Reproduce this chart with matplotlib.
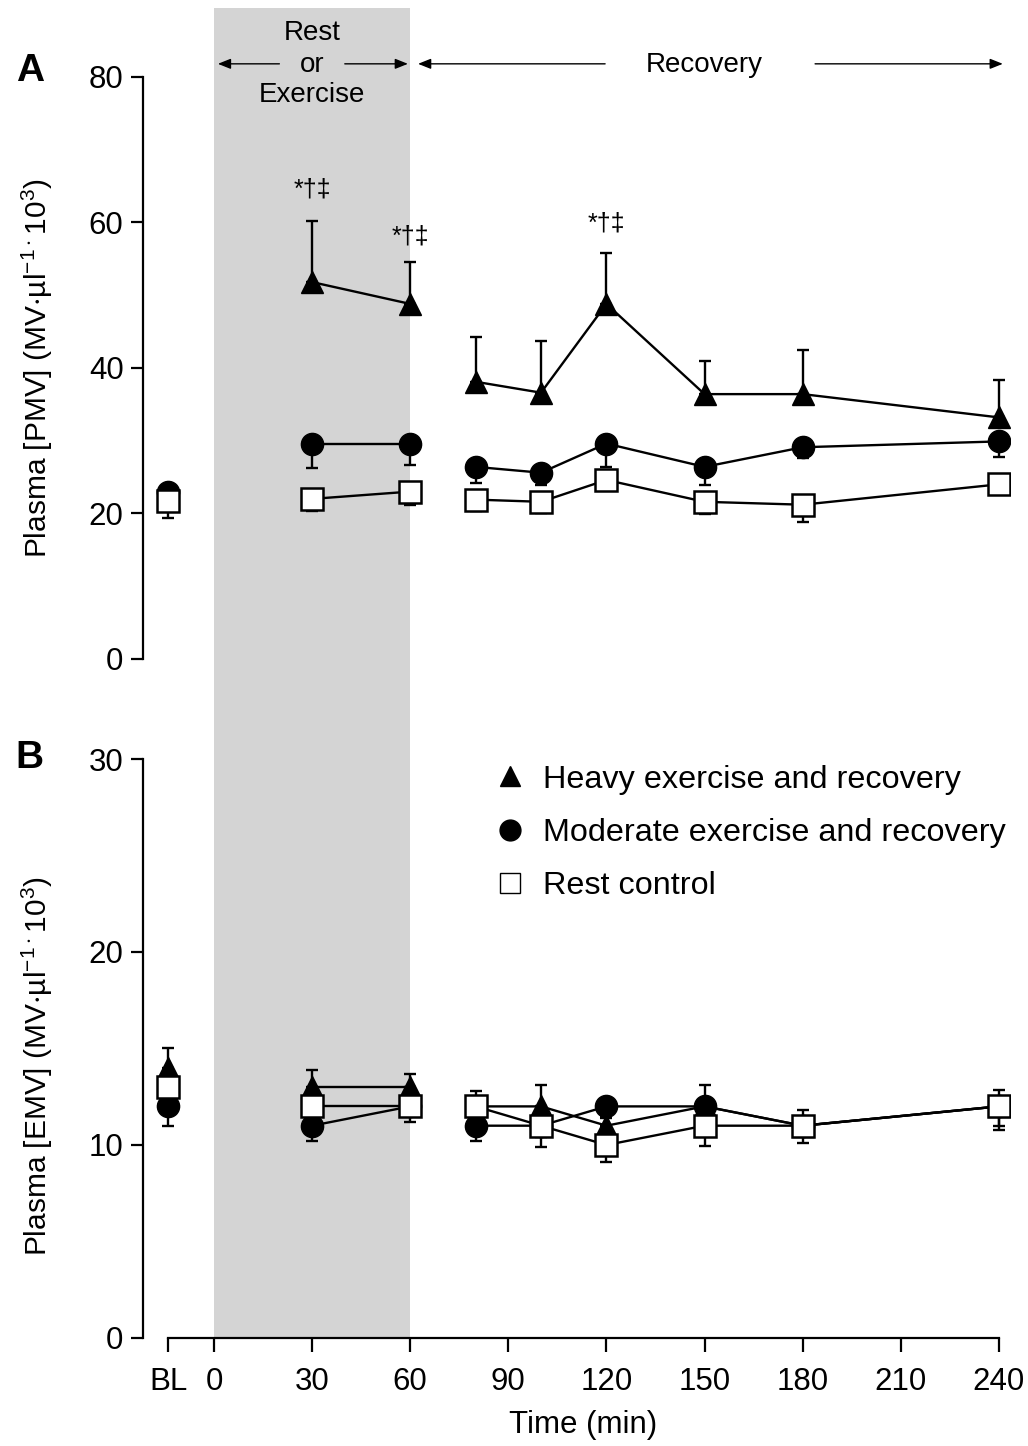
import matplotlib
matplotlib.use('Agg')
import matplotlib.pyplot as plt
from matplotlib.patches import Rectangle
from matplotlib.lines import Line2D
import matplotlib.transforms as mtransforms
import numpy as np

plt.rcParams['font.family'] = ['Liberation Sans', 'DejaVu Sans']
plt.rcParams['mathtext.default'] = 'regular'

# ---------------- data ----------------
time_pos = [-14, 30, 60, 80, 100, 120, 150, 180, 240]   # BL plotted at -14
segments = [[0], [1, 2], [3, 4, 5, 6, 7, 8]]
xtick_vals = [-14, 0, 30, 60, 90, 120, 150, 180, 210, 240]
xtick_labels = ['BL', '0', '30', '60', '90', '120', '150', '180', '210', '240']

series_labels = ['Heavy exercise and recovery', 'Moderate exercise and recovery', 'Rest control']

# Panel A: plasma PMV
pmv_heavy = [22.0, 51.8, 48.8, 38.1, 36.6, 48.8, 36.4, 36.4, 33.2]
pmv_heavy_err = [1.0, 8.4, 5.7, 6.1, 7.1, 7.0, 4.6, 6.0, 5.1]      # upper
pmv_mod = [23.0, 29.6, 29.6, 26.4, 25.6, 29.6, 26.4, 29.1, 29.9]
pmv_mod_err = [1.5, 3.3, 2.9, 2.2, 1.7, 3.2, 2.5, 1.5, 2.2]        # lower
pmv_rest = [21.7, 22.0, 23.0, 21.9, 21.6, 24.6, 21.6, 21.2, 24.0]
pmv_rest_err = [2.3, 1.7, 1.8, 1.6, 1.6, 1.0, 1.7, 2.4, 1.0]       # lower

# Panel B: plasma EMV
emv_heavy = [14, 13, 13, 12, 12, 11, 12, 11, 12]
emv_heavy_err = [1.0, 0.9, 0.7, 0.8, 1.1, 0.5, 1.1, 0.8, 0.85]
emv_mod = [12, 11, 12, 11, 11, 12, 12, 11, 12]
emv_mod_err = [1.0, 0.8, 0.8, 0.8, 0.6, 0.6, 0.6, 0.9, 1.0]
emv_rest = [13, 12, 12, 12, 11, 10, 11, 11, 12]
emv_rest_err = [0.5, 0.5, 0.5, 0.5, 1.1, 0.9, 1.05, 0.5, 1.2]

sig_times = [30, 60, 120]
sig_heights = [64.5, 58.1, 59.8]
sig_text = '*\u2020\u2021'

# ---------------- styles ----------------
styles = [
    dict(marker='^', ms=15.5, mfc='black', mec='black', mew=1.0),
    dict(marker='o', ms=16, mfc='black', mec='black', mew=1.0),
    dict(marker='s', ms=15.5, mfc='white', mec='black', mew=1.8),
]
err_dirs = ['up', 'down', 'down']

fig = plt.figure(figsize=(10.28, 14.46), dpi=100)
ax1 = fig.add_axes([0.1391, 0.5443, 0.8434, 0.4025])
ax2 = fig.add_axes([0.1391, 0.0747, 0.8434, 0.4004])
ax1.set_zorder(2)
ax2.set_zorder(1)
ax1.patch.set_visible(False)
ax2.patch.set_visible(False)

x = np.array(time_pos, dtype=float)


def draw_panel(ax, data, errs):
    for k, (y, e) in enumerate(zip(data, errs)):
        y = np.array(y, dtype=float)
        e = np.array(e, dtype=float)
        z = 3 + k
        zero = np.zeros_like(e)
        yerr = [zero, e] if err_dirs[k] == 'up' else [e, zero]
        ax.errorbar(x, y, yerr=yerr, fmt='none', ecolor='black',
                    elinewidth=1.7, capsize=4, capthick=1.7, zorder=z)
        for seg in segments:
            ax.plot(x[seg], y[seg], color='black', lw=1.7, zorder=z,
                    linestyle='-', **styles[k])


draw_panel(ax1, [pmv_heavy, pmv_mod, pmv_rest], [pmv_heavy_err, pmv_mod_err, pmv_rest_err])
draw_panel(ax2, [emv_heavy, emv_mod, emv_rest], [emv_heavy_err, emv_mod_err, emv_rest_err])

xlim = (-21.7, 243.4)
for ax in (ax1, ax2):
    ax.set_xlim(*xlim)
    ax.spines['top'].set_visible(False)
    ax.spines['right'].set_visible(False)
    ax.spines['left'].set_linewidth(1.6)
    ax.spines['bottom'].set_linewidth(1.6)
    ax.tick_params(axis='y', length=9, width=1.6, pad=5, labelsize=22.5, direction='out')

ax1.set_ylim(0, 80)
ax1.set_yticks([0, 20, 40, 60, 80])
ax1.spines['bottom'].set_visible(False)
ax1.set_xticks([])

ax2.set_ylim(0, 30)
ax2.set_yticks([0, 10, 20, 30])
ax2.set_xticks(xtick_vals)
ax2.set_xticklabels(xtick_labels)
ax2.spines['bottom'].set_bounds(-14, 240)
ax2.tick_params(axis='x', length=10, width=1.6, pad=11, labelsize=22.5, direction='out')

ax1.set_ylabel('Plasma [PMV] (MV$\\cdot$µl$^{-1\\cdot}$10$^{3}$)', fontsize=21.5)
ax2.set_ylabel('Plasma [EMV] (MV$\\cdot$µl$^{-1\\cdot}$10$^{3}$)', fontsize=21.5)
ax1.yaxis.set_label_coords(-0.1015, 0.5)
ax2.yaxis.set_label_coords(-0.1015, 0.47)
ax2.set_xlabel('Time (min)', fontsize=22.5)
ax2.xaxis.set_label_coords(0.5075, -0.125)

# grey exercise band spanning both panels
trans = mtransforms.blended_transform_factory(ax2.transData, ax2.transAxes)
ax2.add_patch(Rectangle((0, 0), 60, 2.297, transform=trans, facecolor='#d4d4d4',
                        edgecolor='none', clip_on=False, zorder=0))

# significance markers
for t, h in zip(sig_times, sig_heights):
    ax1.text(t, h, sig_text, ha='center', va='center', fontsize=18)

# top annotations
ax1.text(30, 86.0, 'Rest', ha='center', va='center', fontsize=20)
ax1.text(30, 81.6, 'or', ha='center', va='center', fontsize=20)
ax1.text(30, 77.5, 'Exercise', ha='center', va='center', fontsize=20)
ax1.text(150, 81.6, 'Recovery', ha='center', va='center', fontsize=20)
arrow_kw = dict(arrowstyle='-|>,head_length=0.55,head_width=0.22', lw=1.0,
                color='black', shrinkA=0, shrinkB=0, mutation_scale=14)
ay = 81.8
for start, end in [(20, 1.2), (40, 59.3), (119.6, 62.4), (183.8, 241.2)]:
    ax1.annotate('', xy=(end, ay), xytext=(start, ay), arrowprops=arrow_kw,
                 annotation_clip=False)

# panel letters
fig.text(0.029, 0.951, 'A', fontsize=28, fontweight='bold', ha='center', va='center')
fig.text(0.029, 0.4755, 'B', fontsize=28, fontweight='bold', ha='center', va='center')

# legend
handles = [
    Line2D([], [], linestyle='none', marker='^', ms=14, mfc='black', mec='black'),
    Line2D([], [], linestyle='none', marker='o', ms=15, mfc='black', mec='black'),
    Line2D([], [], linestyle='none', marker='s', ms=15, mfc='white', mec='black', mew=1.0),
]
ax2.legend(handles, series_labels, loc='upper left', bbox_to_anchor=(0.405, 0.99),
           frameon=False, fontsize=23.3, handlelength=1.0, handletextpad=0.5,
           labelspacing=0.72, borderpad=0, borderaxespad=0)

fig.savefig('out.png', dpi=100)
